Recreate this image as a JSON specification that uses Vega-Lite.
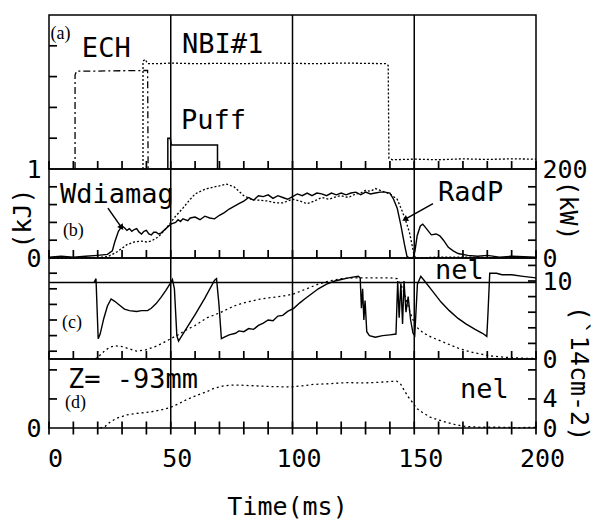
{
  "$schema": "https://vega.github.io/schema/vega-lite/v6.json",
  "autosize": {"type": "pad"},
  "padding": {"left": 9, "top": 13, "right": 0, "bottom": 0},
  "background": "white",
  "bounds": "flush",
  "spacing": 0,
  "datasets": {
    "grid": [{"t": 50}, {"t": 100}, {"t": 150}],
    "xt": [{"t":0,"v":0},{"t":10,"v":0},{"t":20,"v":0},{"t":30,"v":0},{"t":40,"v":0},{"t":50,"v":0},{"t":60,"v":0},{"t":70,"v":0},{"t":80,"v":0},{"t":90,"v":0},{"t":100,"v":0},{"t":110,"v":0},{"t":120,"v":0},{"t":130,"v":0},{"t":140,"v":0},{"t":150,"v":0},{"t":160,"v":0},{"t":170,"v":0},{"t":180,"v":0},{"t":190,"v":0},{"t":200,"v":0}],
    "yl_a": [{"t":0,"v":1},{"t":0,"v":2},{"t":0,"v":3},{"t":0,"v":4}],
    "yl_b": [{"t":0,"v":0.2},{"t":0,"v":0.4},{"t":0,"v":0.6},{"t":0,"v":0.8}],
    "yr_b": [{"t":200,"kw":40},{"t":200,"kw":80},{"t":200,"kw":120},{"t":200,"kw":160}],
    "yl_c": [{"t":0,"v":1},{"t":0,"v":3},{"t":0,"v":5},{"t":0,"v":7},{"t":0,"v":9},{"t":0,"v":11}],
    "yr_c": [{"t":200,"v":2},{"t":200,"v":4},{"t":200,"v":6},{"t":200,"v":8},{"t":200,"v":10},{"t":200,"v":12}],
    "yl_d": [{"t":0,"v":4},{"t":0,"v":8}],
    "yr_d": [{"t":200,"v":4},{"t":200,"v":8}],
    "a_ech": [{"i":0,"t":10.7,"v":0},{"i":1,"t":10.7,"v":3.05},{"i":2,"t":11.3,"v":3.18},{"i":3,"t":20,"v":3.18},{"i":4,"t":30,"v":3.19},{"i":5,"t":40.5,"v":3.2},{"i":6,"t":40.7,"v":0}],
    "a_nbi": [{"i":0,"t":38.6,"v":0},{"i":1,"t":38.6,"v":3.5},{"i":2,"t":39.5,"v":3.56},{"i":3,"t":40.5,"v":3.42},{"i":4,"t":45,"v":3.42},{"i":5,"t":50,"v":3.44},{"i":6,"t":60,"v":3.42},{"i":7,"t":70,"v":3.43},{"i":8,"t":80,"v":3.42},{"i":9,"t":90,"v":3.44},{"i":10,"t":100,"v":3.43},{"i":11,"t":110,"v":3.42},{"i":12,"t":120,"v":3.44},{"i":13,"t":130,"v":3.43},{"i":14,"t":138.5,"v":3.42},{"i":15,"t":139.3,"v":3.36},{"i":16,"t":139.6,"v":0.35},{"i":17,"t":141,"v":0.3},{"i":18,"t":150,"v":0.32},{"i":19,"t":160,"v":0.3},{"i":20,"t":170,"v":0.33},{"i":21,"t":180,"v":0.31},{"i":22,"t":190,"v":0.33},{"i":23,"t":200,"v":0.32}],
    "a_puff": [{"i":0,"t":48.8,"v":0},{"i":1,"t":48.8,"v":1.0},{"i":2,"t":49.8,"v":1.0},{"i":3,"t":50.2,"v":0.78},{"i":4,"t":69.2,"v":0.78},{"i":5,"t":69.2,"v":0}],
    "a_txt": [{"t":13.5,"v":3.9,"label":"ECH"},{"t":54.6,"v":4.03,"label":"NBI#1"},{"t":54.2,"v":1.56,"label":"Puff"}],
    "a_tag": [{"t":0.6,"v":4.37,"label":"(a)"}],
    "b_w": [{"t":0,"v":0.01},{"t":5,"v":0.02},{"t":10,"v":0.01},{"t":15,"v":0.02},{"t":20,"v":0.03},{"t":24,"v":0.04},{"t":26,"v":0.08},{"t":27,"v":0.18},{"t":28.5,"v":0.3},{"t":30,"v":0.36},{"t":31,"v":0.34},{"t":32,"v":0.31},{"t":33,"v":0.33},{"t":34,"v":0.3},{"t":35,"v":0.32},{"t":36,"v":0.33},{"t":37,"v":0.29},{"t":38,"v":0.27},{"t":39,"v":0.3},{"t":40,"v":0.31},{"t":41,"v":0.27},{"t":42,"v":0.26},{"t":43,"v":0.29},{"t":44,"v":0.29},{"t":45,"v":0.27},{"t":46,"v":0.28},{"t":48,"v":0.33},{"t":50,"v":0.38},{"t":52,"v":0.4},{"t":53,"v":0.43},{"t":54,"v":0.41},{"t":55,"v":0.44},{"t":57,"v":0.42},{"t":58,"v":0.45},{"t":60,"v":0.46},{"t":62,"v":0.43},{"t":64,"v":0.47},{"t":66,"v":0.45},{"t":68,"v":0.44},{"t":70,"v":0.48},{"t":72,"v":0.51},{"t":74,"v":0.55},{"t":76,"v":0.58},{"t":78,"v":0.61},{"t":80,"v":0.64},{"t":82,"v":0.68},{"t":84,"v":0.65},{"t":86,"v":0.7},{"t":88,"v":0.69},{"t":90,"v":0.71},{"t":92,"v":0.67},{"t":94,"v":0.7},{"t":96,"v":0.68},{"t":98,"v":0.66},{"t":100,"v":0.69},{"t":102,"v":0.72},{"t":104,"v":0.7},{"t":106,"v":0.73},{"t":108,"v":0.7},{"t":110,"v":0.73},{"t":112,"v":0.72},{"t":114,"v":0.7},{"t":116,"v":0.73},{"t":118,"v":0.71},{"t":120,"v":0.73},{"t":122,"v":0.71},{"t":124,"v":0.73},{"t":126,"v":0.74},{"t":128,"v":0.71},{"t":130,"v":0.74},{"t":132,"v":0.72},{"t":134,"v":0.73},{"t":136,"v":0.74},{"t":138,"v":0.74},{"t":140,"v":0.73},{"t":141.5,"v":0.66},{"t":143,"v":0.56},{"t":144.5,"v":0.37},{"t":146,"v":0.15},{"t":147,"v":0.02},{"t":148,"v":0},{"t":149.5,"v":0},{"t":150.3,"v":0.08},{"t":151.2,"v":0.25},{"t":152.5,"v":0.36},{"t":153.5,"v":0.38},{"t":155,"v":0.33},{"t":157,"v":0.26},{"t":159,"v":0.27},{"t":160.5,"v":0.25},{"t":162,"v":0.2},{"t":164,"v":0.12},{"t":166,"v":0.08},{"t":168,"v":0.05},{"t":172,"v":0.03},{"t":176,"v":0.02},{"t":180,"v":0.03},{"t":185,"v":0.01},{"t":190,"v":0.02},{"t":200,"v":0.01}],
    "b_rad": [{"t":0,"kw":0},{"t":10,"kw":0},{"t":20,"kw":1},{"t":24,"kw":3},{"t":26,"kw":8},{"t":28,"kw":14},{"t":30,"kw":22},{"t":32,"kw":30},{"t":35,"kw":36},{"t":38,"kw":38},{"t":40,"kw":36},{"t":42,"kw":38},{"t":45,"kw":48},{"t":48,"kw":66},{"t":50,"kw":80},{"t":52,"kw":94},{"t":55,"kw":112},{"t":58,"kw":132},{"t":60,"kw":144},{"t":63,"kw":152},{"t":65,"kw":156},{"t":68,"kw":160},{"t":70,"kw":162},{"t":73,"kw":166},{"t":76,"kw":160},{"t":78,"kw":150},{"t":80,"kw":140},{"t":83,"kw":132},{"t":86,"kw":130},{"t":90,"kw":128},{"t":93,"kw":124},{"t":96,"kw":124},{"t":98,"kw":128},{"t":100,"kw":132},{"t":103,"kw":128},{"t":106,"kw":122},{"t":109,"kw":128},{"t":112,"kw":136},{"t":115,"kw":132},{"t":118,"kw":138},{"t":120,"kw":140},{"t":123,"kw":136},{"t":126,"kw":144},{"t":128,"kw":146},{"t":130,"kw":152},{"t":132,"kw":150},{"t":134,"kw":156},{"t":136,"kw":152},{"t":138,"kw":148},{"t":140,"kw":144},{"t":143,"kw":132},{"t":145,"kw":106},{"t":146.5,"kw":84},{"t":148,"kw":58},{"t":149,"kw":32},{"t":150,"kw":4},{"t":151,"kw":0},{"t":160,"kw":2},{"t":170,"kw":2},{"t":180,"kw":1},{"t":200,"kw":1}],
    "b_txt": [{"t":4.5,"v":0.71,"label":"Wdiamag"},{"t":159.8,"v":0.73,"label":"RadP"}],
    "b_tag": [{"t":5.7,"v":0.3,"label":"(b)"}],
    "b_arrow1": [{"t":24.2,"v":0.56,"t2":29.6,"v2":0.35}],
    "b_head1": [{"t":29.6,"v":0.35}],
    "b_arrow2": [{"t":157.7,"v":0.61,"t2":146.5,"v2":0.44}],
    "b_head2": [{"t":146.5,"v":0.44}],
    "c_sol": [{"t":18.5,"v":9.8},{"t":19.3,"v":10.3},{"t":20.2,"v":2.6},{"t":21,"v":3.2},{"t":22.5,"v":5.2},{"t":24,"v":6.8},{"t":25.5,"v":7.7},{"t":27,"v":7.4},{"t":29,"v":6.9},{"t":31,"v":6.4},{"t":33,"v":6.2},{"t":36,"v":6.1},{"t":38,"v":6.2},{"t":40.5,"v":6.2},{"t":42,"v":6.5},{"t":44,"v":7.1},{"t":46,"v":7.9},{"t":48,"v":8.8},{"t":50,"v":9.8},{"t":50.7,"v":10.2},{"t":51.5,"v":9.0},{"t":52.5,"v":3.0},{"t":53.2,"v":2.3},{"t":56,"v":3.7},{"t":60,"v":5.7},{"t":64,"v":7.8},{"t":68,"v":10.1},{"t":68.8,"v":10.3},{"t":69.8,"v":7},{"t":70.8,"v":2.6},{"t":72,"v":2.8},{"t":74,"v":3.1},{"t":76.6,"v":3.3},{"t":78,"v":3.6},{"t":80,"v":3.5},{"t":82,"v":3.9},{"t":84,"v":3.8},{"t":86,"v":4.3},{"t":88,"v":4.6},{"t":90,"v":5.0},{"t":92,"v":4.9},{"t":94,"v":5.5},{"t":96,"v":5.6},{"t":98,"v":6.1},{"t":100.5,"v":6.5},{"t":103,"v":7.2},{"t":105,"v":7.7},{"t":108,"v":8.4},{"t":110.6,"v":9.0},{"t":114,"v":9.6},{"t":117.4,"v":10.0},{"t":120,"v":10.2},{"t":123,"v":10.4},{"t":127,"v":10.6},{"t":127.8,"v":10.4},{"t":128.3,"v":6.5},{"t":128.8,"v":9.0},{"t":129.3,"v":5.0},{"t":129.8,"v":7.5},{"t":130.5,"v":3.5},{"t":131.6,"v":3.0},{"t":134,"v":2.8},{"t":137,"v":3.0},{"t":140,"v":3.1},{"t":142.5,"v":3.2},{"t":143.2,"v":10.0},{"t":143.8,"v":5.3},{"t":144.5,"v":9.7},{"t":145.2,"v":4.5},{"t":145.8,"v":10.0},{"t":146.6,"v":6.0},{"t":147.5,"v":8.0},{"t":148.5,"v":5.0},{"t":149.5,"v":3.3},{"t":150.2,"v":3.0},{"t":151.3,"v":9.6},{"t":152.7,"v":10.6},{"t":154,"v":10.1},{"t":157.5,"v":8.7},{"t":161,"v":7.3},{"t":164.4,"v":6.2},{"t":168,"v":5.2},{"t":171.2,"v":4.5},{"t":175,"v":3.8},{"t":178,"v":3.3},{"t":179.8,"v":2.9},{"t":180.3,"v":6},{"t":181,"v":11.0},{"t":183.8,"v":11.0},{"t":186,"v":10.8},{"t":190,"v":10.8},{"t":194.7,"v":10.6},{"t":200,"v":10.4}],
    "c_dot": [{"t":19,"v":0},{"t":21,"v":0.5},{"t":23,"v":1.1},{"t":25,"v":1.5},{"t":27,"v":1.7},{"t":30,"v":1.6},{"t":33,"v":1.3},{"t":36,"v":1.0},{"t":40,"v":1.2},{"t":44.5,"v":1.7},{"t":47,"v":2.1},{"t":50,"v":2.6},{"t":53,"v":3.1},{"t":56.8,"v":3.8},{"t":60,"v":4.3},{"t":65,"v":5.3},{"t":70,"v":5.9},{"t":76,"v":6.8},{"t":80,"v":7.2},{"t":87,"v":7.7},{"t":92,"v":7.9},{"t":96.6,"v":8.1},{"t":100,"v":8.3},{"t":105,"v":8.9},{"t":110.6,"v":9.6},{"t":115,"v":10.0},{"t":120,"v":10.3},{"t":125,"v":10.4},{"t":133.7,"v":10.4},{"t":140,"v":10.4},{"t":143,"v":10.3},{"t":145,"v":9.2},{"t":146.5,"v":7.8},{"t":148.5,"v":5.8},{"t":150.6,"v":4.2},{"t":152,"v":3.8},{"t":154,"v":3.3},{"t":157,"v":2.8},{"t":161,"v":2.3},{"t":164,"v":1.9},{"t":168,"v":1.4},{"t":171,"v":1.1},{"t":174.6,"v":0.8},{"t":178,"v":0.6},{"t":181,"v":0.4},{"t":188,"v":0.2},{"t":195,"v":0.1},{"t":200,"v":0.05}],
    "c_level": [{"t":0,"t2":200,"v":9.8}],
    "c_txt": [{"t":158.5,"v":11.3,"label":"nel"}],
    "c_tag": [{"t":5.3,"v":4.6,"label":"(c)"}],
    "d_dot": [{"t":21,"v":0},{"t":23,"v":0.2},{"t":25,"v":0.8},{"t":27.8,"v":1.35},{"t":32,"v":1.8},{"t":36,"v":2.0},{"t":41.5,"v":2.2},{"t":46,"v":2.5},{"t":49.7,"v":2.8},{"t":53,"v":3.3},{"t":56.5,"v":3.9},{"t":60,"v":4.4},{"t":64.8,"v":5.0},{"t":68,"v":5.5},{"t":71.6,"v":5.8},{"t":75,"v":5.9},{"t":78.4,"v":5.9},{"t":85,"v":5.8},{"t":92,"v":5.7},{"t":99,"v":5.65},{"t":104,"v":5.8},{"t":108.6,"v":6.0},{"t":115,"v":6.1},{"t":122,"v":6.25},{"t":129,"v":6.2},{"t":136,"v":6.3},{"t":140,"v":6.4},{"t":142.8,"v":6.45},{"t":144.5,"v":6.0},{"t":146,"v":5.1},{"t":147.5,"v":4.3},{"t":149,"v":3.65},{"t":151,"v":2.7},{"t":153.5,"v":2.1},{"t":156.5,"v":1.5},{"t":160,"v":1.1},{"t":163,"v":0.8},{"t":166.5,"v":0.5},{"t":170,"v":0.25},{"t":177,"v":0.1},{"t":185,"v":0.1},{"t":193,"v":0.05},{"t":200,"v":0.1}],
    "d_txt": [{"t":7.8,"v":6.6,"label":"Z= -93mm"},{"t":168.8,"v":5.2,"label":"nel"}],
    "d_tag": [{"t":6.6,"v":3.45,"label":"(d)"}]
  },
  "vconcat": [
    {
      "width": 487, "height": 154,
      "encoding": {
        "x": {"field": "t", "type": "quantitative", "scale": {"domain": [0, 200], "nice": false, "zero": false},
          "axis": {"title": null, "labels": false, "ticks": false}},
        "y": {"field": "v", "type": "quantitative", "scale": {"domain": [0, 5], "nice": false},
          "axis": {"title": null, "labels": false, "ticks": false}}
      },
      "layer": [
        {"data": {"name": "grid"}, "mark": {"type": "rule", "strokeWidth": 1.5, "color": "black"}, "encoding": {"y": null}},
        {"data": {"name": "xt"}, "mark": {"type": "tick", "orient": "vertical", "size": 8, "thickness": 1.7, "yOffset": -4, "color": "black", "opacity": 1}},
        {"data": {"name": "yl_a"}, "mark": {"type": "tick", "orient": "horizontal", "size": 8, "thickness": 1.7, "xOffset": 4, "color": "black", "opacity": 1}},
        {"data": {"name": "a_ech"}, "mark": {"type": "line", "strokeDash": [7, 3, 2, 3], "strokeWidth": 1.3, "color": "black"},
         "encoding": {"order": {"field": "i"}}},
        {"data": {"name": "a_nbi"}, "mark": {"type": "line", "strokeDash": [2, 2], "strokeWidth": 1.3, "color": "black"},
         "encoding": {"order": {"field": "i"}}},
        {"data": {"name": "a_puff"}, "mark": {"type": "line", "strokeWidth": 1.5, "color": "black"},
         "encoding": {"order": {"field": "i"}}},
        {"data": {"name": "a_txt"}, "mark": {"type": "text", "align": "left", "baseline": "middle"},
         "encoding": {"text": {"field": "label"}}},
        {"data": {"name": "a_tag"}, "mark": {"type": "text", "align": "left", "baseline": "middle", "font": "Liberation Serif", "fontSize": 18},
         "encoding": {"text": {"field": "label"}}}
      ]
    },
    {
      "width": 487, "height": 89,
      "resolve": {"scale": {"y": "independent"}},
      "encoding": {
        "x": {"field": "t", "type": "quantitative", "scale": {"domain": [0, 200], "nice": false, "zero": false},
          "axis": {"title": null, "labels": false, "ticks": false}}
      },
      "layer": [
        {"data": {"name": "grid"}, "mark": {"type": "rule", "strokeWidth": 1.5, "color": "black"}, "encoding": {}},
        {"data": {"name": "xt"}, "mark": {"type": "tick", "orient": "vertical", "size": 8, "thickness": 1.7, "yOffset": -4, "color": "black", "opacity": 1},
         "encoding": {"y": {"field": "v", "type": "quantitative", "scale": {"domain": [0, 1], "nice": false}, "axis": null}}},
        {"data": {"name": "yl_b"}, "mark": {"type": "tick", "orient": "horizontal", "size": 8, "thickness": 1.7, "xOffset": 4, "color": "black", "opacity": 1},
         "encoding": {"y": {"field": "v", "type": "quantitative", "scale": {"domain": [0, 1], "nice": false}, "axis": null}}},
        {"data": {"name": "yr_b"}, "mark": {"type": "tick", "orient": "horizontal", "size": 8, "thickness": 1.7, "xOffset": -4, "color": "black", "opacity": 1},
         "encoding": {"y": {"field": "kw", "type": "quantitative", "scale": {"domain": [0, 200], "nice": false}, "axis": null}}},
        {"data": {"name": "b_w"}, "mark": {"type": "line", "strokeWidth": 1.4, "color": "black"},
         "encoding": {
           "y": {"field": "v", "type": "quantitative", "scale": {"domain": [0, 1], "nice": false},
             "axis": {"title": "(kJ)", "ticks": false, "values": [0, 1], "labelExpr": "datum.value == 0 ? '0' : '1'", "labelPadding": 8, "labelFlush": false, "titleX": -27, "titleY": 49, "titleBaseline": "middle", "titleAngle": -90, "titleAlign": "center"}}}},
        {"data": {"name": "b_rad"}, "mark": {"type": "line", "strokeDash": [2, 2], "strokeWidth": 1.3, "color": "black"},
         "encoding": {
           "y": {"field": "kw", "type": "quantitative", "scale": {"domain": [0, 200], "nice": false},
             "axis": {"orient": "right", "title": "(kW)", "ticks": false, "values": [0, 200], "labelPadding": 6, "labelFlush": false, "titleX": 31, "titleY": 41, "titleBaseline": "middle", "titleAngle": 90, "titleAlign": "center"}}}},
        {"data": {"name": "b_txt"}, "mark": {"type": "text", "align": "left", "baseline": "middle"},
         "encoding": {"y": {"field": "v", "type": "quantitative", "scale": {"domain": [0, 1], "nice": false}, "axis": null}, "text": {"field": "label"}}},
        {"data": {"name": "b_tag"}, "mark": {"type": "text", "align": "left", "baseline": "middle", "font": "Liberation Serif", "fontSize": 18},
         "encoding": {"y": {"field": "v", "type": "quantitative", "scale": {"domain": [0, 1], "nice": false}, "axis": null}, "text": {"field": "label"}}},
        {"data": {"name": "b_arrow1"}, "mark": {"type": "rule", "strokeWidth": 1.5, "color": "black"},
         "encoding": {"x2": {"field": "t2"},
           "y": {"field": "v", "type": "quantitative", "scale": {"domain": [0, 1], "nice": false}, "axis": null}, "y2": {"field": "v2"}}},
        {"data": {"name": "b_head1"}, "mark": {"type": "point", "shape": "triangle", "filled": true, "color": "black", "opacity": 1, "size": 45, "angle": 146},
         "encoding": {"y": {"field": "v", "type": "quantitative", "scale": {"domain": [0, 1], "nice": false}, "axis": null}}},
        {"data": {"name": "b_arrow2"}, "mark": {"type": "rule", "strokeWidth": 1.5, "color": "black"},
         "encoding": {"x2": {"field": "t2"},
           "y": {"field": "v", "type": "quantitative", "scale": {"domain": [0, 1], "nice": false}, "axis": null}, "y2": {"field": "v2"}}},
        {"data": {"name": "b_head2"}, "mark": {"type": "point", "shape": "triangle", "filled": true, "color": "black", "opacity": 1, "size": 45, "angle": 242},
         "encoding": {"y": {"field": "v", "type": "quantitative", "scale": {"domain": [0, 1], "nice": false}, "axis": null}}}
      ]
    },
    {
      "width": 487, "height": 101,
      "resolve": {"scale": {"y": "independent"}},
      "encoding": {
        "x": {"field": "t", "type": "quantitative", "scale": {"domain": [0, 200], "nice": false, "zero": false},
          "axis": {"title": null, "labels": false, "ticks": false}}
      },
      "layer": [
        {"data": {"name": "grid"}, "mark": {"type": "rule", "strokeWidth": 1.5, "color": "black"}, "encoding": {}},
        {"data": {"name": "xt"}, "mark": {"type": "tick", "orient": "vertical", "size": 8, "thickness": 1.7, "yOffset": -4, "color": "black", "opacity": 1},
         "encoding": {"y": {"field": "v", "type": "quantitative", "scale": {"domain": [0, 12.95], "nice": false}, "axis": null}}},
        {"data": {"name": "yl_c"}, "mark": {"type": "tick", "orient": "horizontal", "size": 8, "thickness": 1.7, "xOffset": 4, "color": "black", "opacity": 1},
         "encoding": {"y": {"field": "v", "type": "quantitative", "scale": {"domain": [0, 12.95], "nice": false}, "axis": null}}},
        {"data": {"name": "yr_c"}, "mark": {"type": "tick", "orient": "horizontal", "size": 8, "thickness": 1.7, "xOffset": -4, "color": "black", "opacity": 1},
         "encoding": {"y": {"field": "v", "type": "quantitative", "scale": {"domain": [0, 12.95], "nice": false}, "axis": null}}},
        {"data": {"name": "c_level"}, "mark": {"type": "rule", "strokeWidth": 1.5, "color": "black"},
         "encoding": {"x2": {"field": "t2"}, "y": {"field": "v", "type": "quantitative", "scale": {"domain": [0, 12.95], "nice": false}, "axis": null}}},
        {"data": {"name": "c_sol"}, "mark": {"type": "line", "strokeWidth": 1.4, "color": "black"},
         "encoding": {
           "y": {"field": "v", "type": "quantitative", "scale": {"domain": [0, 12.95], "nice": false}, "axis": null}}},
        {"data": {"name": "c_dot"}, "mark": {"type": "line", "strokeDash": [2, 3], "strokeWidth": 1.3, "color": "black"},
         "encoding": {
           "y": {"field": "v", "type": "quantitative", "scale": {"domain": [0, 12.95], "nice": false},
             "axis": {"orient": "right", "title": "(`14cm-2)", "ticks": false, "values": [0, 10], "labelPadding": 6, "labelFlush": false, "titleX": 42, "titleY": 115, "titleBaseline": "middle", "titleAngle": 90, "titleAlign": "center"}}}},
        {"data": {"name": "c_txt"}, "mark": {"type": "text", "align": "left", "baseline": "middle"},
         "encoding": {"y": {"field": "v", "type": "quantitative", "scale": {"domain": [0, 12.95], "nice": false}, "axis": null}, "text": {"field": "label"}}},
        {"data": {"name": "c_tag"}, "mark": {"type": "text", "align": "left", "baseline": "middle", "font": "Liberation Serif", "fontSize": 18},
         "encoding": {"y": {"field": "v", "type": "quantitative", "scale": {"domain": [0, 12.95], "nice": false}, "axis": null}, "text": {"field": "label"}}}
      ]
    },
    {
      "width": 487, "height": 69,
      "resolve": {"scale": {"y": "independent"}},
      "encoding": {
        "x": {"field": "t", "type": "quantitative", "scale": {"domain": [0, 200], "nice": false, "zero": false},
          "axis": {"title": "Time(ms)", "ticks": false, "values": [0, 50, 100, 150, 200], "labelPadding": 30, "labelBaseline": "middle", "labelFlush": false, "labelOverlap": false, "labelOffset": 6, "titleX": 238, "titleY": 78, "titleBaseline": "middle", "titleAlign": "center"}}
      },
      "layer": [
        {"data": {"name": "grid"}, "mark": {"type": "rule", "strokeWidth": 1.5, "color": "black"}, "encoding": {}},
        {"data": {"name": "xt"}, "mark": {"type": "tick", "orient": "vertical", "size": 13, "thickness": 1.7, "color": "black", "opacity": 1},
         "encoding": {"y": {"field": "v", "type": "quantitative", "scale": {"domain": [0, 9.5], "nice": false}, "axis": null}}},
        {"data": {"name": "yl_d"}, "mark": {"type": "tick", "orient": "horizontal", "size": 8, "thickness": 1.7, "xOffset": 4, "color": "black", "opacity": 1},
         "encoding": {"y": {"field": "v", "type": "quantitative", "scale": {"domain": [0, 9.5], "nice": false}, "axis": null}}},
        {"data": {"name": "yr_d"}, "mark": {"type": "tick", "orient": "horizontal", "size": 8, "thickness": 1.7, "xOffset": -4, "color": "black", "opacity": 1},
         "encoding": {"y": {"field": "v", "type": "quantitative", "scale": {"domain": [0, 9.5], "nice": false}, "axis": null}}},
        {"data": {"name": "d_dot"}, "mark": {"type": "line", "strokeDash": [2, 3], "strokeWidth": 1.3, "color": "black"},
         "encoding": {
           "y": {"field": "v", "type": "quantitative", "scale": {"domain": [0, 9.5], "nice": false},
             "axis": {"title": null, "ticks": false, "values": [0], "labelPadding": 8, "labelFlush": false}}}},
        {"data": {"name": "d_txt"}, "mark": {"type": "text", "align": "left", "baseline": "middle"},
         "encoding": {
           "y": {"field": "v", "type": "quantitative", "scale": {"domain": [0, 9.5], "nice": false},
             "axis": {"orient": "right", "title": null, "ticks": false, "values": [0, 4], "labelPadding": 6, "labelFlush": false}}, "text": {"field": "label"}}},
        {"data": {"name": "d_tag"}, "mark": {"type": "text", "align": "left", "baseline": "middle", "font": "Liberation Serif", "fontSize": 18},
         "encoding": {"y": {"field": "v", "type": "quantitative", "scale": {"domain": [0, 9.5], "nice": false}, "axis": null}, "text": {"field": "label"}}}
      ]
    }
  ],
  "config": {
    "view": {"stroke": "black", "strokeWidth": 1.5},
    "axis": {"domain": false, "grid": false, "labelColor": "black", "titleColor": "black",
      "labelFont": "DejaVu Sans Mono", "titleFont": "DejaVu Sans Mono", "labelFontSize": 25, "titleFontSize": 25, "titleFontWeight": "normal"},
    "text": {"font": "DejaVu Sans Mono", "fontSize": 27, "color": "black"}
  }
}
